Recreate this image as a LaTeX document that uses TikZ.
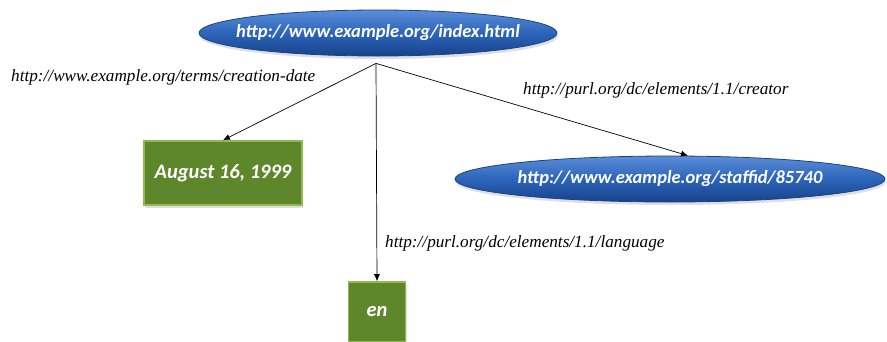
\documentclass[tikz,border=0pt]{standalone}
\usepackage{fontspec}
\setmainfont{Liberation Serif}
\newfontfamily\resfont{Carlito}
\usetikzlibrary{arrows.meta,calc,positioning,shadows,shapes.geometric}

\definecolor{resblue}{RGB}{44,100,186}
\definecolor{resbluetop}{RGB}{92,142,216}
\definecolor{resbluedark}{RGB}{24,66,138}
\definecolor{litgreen}{RGB}{94,134,42}
\definecolor{litedge}{RGB}{146,184,82}

% text of a resource does not widen its ellipse
\newcommand{\restext}[1]{\makebox[0pt]{#1}}

\tikzset{
  resource/.style={ellipse,inner sep=0pt,minimum height=46pt,
    top color=resbluetop,bottom color=resbluedark,middle color=resblue,
    draw=resbluedark,line width=0.8pt,
    drop shadow={opacity=0.25,shadow xshift=1pt,shadow yshift=-3pt},
    text=white,font=\resfont\bfseries\itshape\fontsize{18.5}{20}\selectfont},
  literal/.style={rectangle,inner sep=0pt,fill=litgreen,draw=litedge,line width=1.6pt,
    drop shadow={opacity=0.25,shadow xshift=1pt,shadow yshift=-3pt},
    text=white,font=\resfont\bfseries\itshape\fontsize{20.5}{22}\selectfont},
  prop/.style={anchor=west,inner sep=0pt,font=\itshape\fontsize{17.2}{19}\selectfont},
  rel/.style={-{Latex[length=7pt,width=6pt]},line width=0.7pt}
}

\begin{document}
\begin{tikzpicture}[x=1pt,y=-1pt]
  \useasboundingbox[fill=white] (0,0) rectangle (887,341);
  % subject and objects
  \node[resource,minimum width=358pt] (page) at (378,33) {\restext{http://www.example.org/index.html}};
  \node[resource,minimum width=430pt] (staff) at (670,179) {\restext{http://www.example.org/staffid/85740}};
  \node[literal,minimum width=158pt,minimum height=64pt] (date) at (223,173) {August 16, 1999};
  \node[literal,minimum width=57pt,minimum height=60pt] (lang) at (377,312) {en};
  % properties
  \coordinate (hub) at ($(page.south)+(-2,7)$);
  \draw[rel] (hub) -- (date.north);
  \draw[rel] (hub) -- (lang.north);
  \draw[rel] (hub) -- ($(staff.north)+(18,0)$);
  \node[prop] (pdate) at (11,77) {http://www.example.org/terms/creation-date};
  \node[prop] (pcreator) at (523,90) {http://purl.org/dc/elements/1.1/creator};
  \node[prop] (plang) at (385,243) {http://purl.org/dc/elements/1.1/language};
\end{tikzpicture}
\end{document}
